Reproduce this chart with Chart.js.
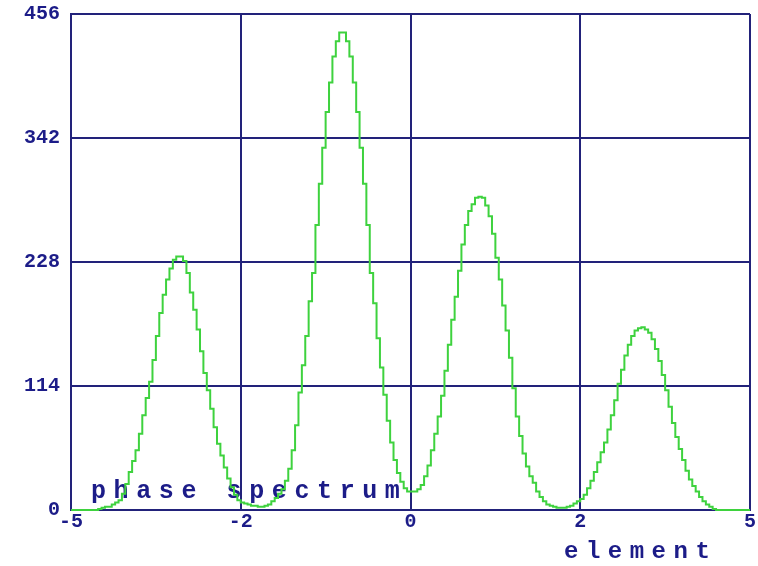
<!DOCTYPE html>
<html>
<head>
<meta charset="utf-8">
<style>
html, body { margin: 0; padding: 0; background: #fff; }
canvas { display: block; }
</style>
</head>
<body>
<canvas id="phaseChart" width="758" height="566"></canvas>
<script src="https://cdn.jsdelivr.net/npm/chart.js"></script>
<script>
// histogram bins: start at -5, each 0.05 wide
const binStart = -5;
const binWidth = 0.05;
const counts = [
  0, 0, 0, 0, 0, 0, 0, 0, 1, 2,
  3, 3, 5, 7, 9, 15, 24, 35, 45, 55,
  70, 87, 103, 118, 138, 160, 181, 198, 212, 222,
  230, 233, 233, 229, 218, 200, 184, 166, 146, 126,
  110, 93, 76, 61, 50, 39, 29, 21, 14, 9,
  7, 6, 5, 4, 4, 3, 3, 4, 5, 8,
  11, 15, 19, 27, 38, 55, 78, 108, 133, 160,
  192, 218, 262, 300, 333, 366, 393, 417, 431, 439,
  439, 431, 417, 393, 366, 333, 300, 262, 218, 190,
  158, 131, 106, 82, 62, 46, 34, 26, 20, 17,
  17, 17, 19, 23, 31, 41, 55, 70, 86, 105,
  128, 152, 175, 196, 220, 244, 262, 275, 281, 287,
  288, 287, 280, 270, 254, 232, 212, 188, 165, 140,
  112, 86, 68, 52, 40, 31, 25, 17, 12, 8,
  5, 4, 3, 2, 2, 2, 3, 4, 6, 8,
  10, 14, 20, 27, 35, 44, 53, 62, 74, 87,
  101, 116, 129, 142, 152, 160, 165, 167, 168, 166,
  163, 157, 148, 137, 124, 110, 95, 80, 67, 56,
  46, 36, 28, 22, 17, 12, 8, 5, 3, 1,
  0, 0, 0, 0, 0, 0, 0, 0, 0, 0
];
const yTicks = [0, 114, 228, 342, 456];
const xTicks = [-5, -2.5, 0, 2.5, 5];
const xTickLabels = ['-5', '-2', '0', '2', '5'];
const plotLabel = 'phase spectrum';
const xTitle = 'element';

const navy = '#1c1c88';
const gridColor = '#22227a';
const lineColor = '#3ed23e';
const tickFont = {family: '"Liberation Mono", monospace', weight: 'bold', size: 20};

// step line: each point holds its value until the next bin edge
let points = counts.map((c, i) => ({x: binStart + i * binWidth, y: c}));
points.push({x: binStart + counts.length * binWidth, y: counts[counts.length - 1]});

const textPlugin = {
    id: 'extraText',
    beforeDatasetsDraw(chart) {
        let c = chart.ctx, a = chart.chartArea;
        c.save();
        c.fillStyle = navy;
        c.font = 'bold 25px "Liberation Mono", monospace';
        c.letterSpacing = '7.6px';
        c.textBaseline = 'alphabetic';
        c.fillText(plotLabel, a.left + 20, a.bottom - 12);
        c.restore();
    },
    afterDraw(chart) {
        let c = chart.ctx;
        c.save();
        c.fillStyle = navy;
        c.font = 'bold 24px "Liberation Mono", monospace';
        c.letterSpacing = '7.5px';
        c.textBaseline = 'alphabetic';
        c.fillText(xTitle, 564, 558);
        c.restore();
    }
};

let ctx = document.getElementById('phaseChart').getContext('2d');
let chart = new Chart(ctx, {
    type: 'line',
    data: {
        datasets: [{
            label: plotLabel,
            data: points,
            borderColor: lineColor,
            borderWidth: 2,
            pointRadius: 0,
            stepped: 'before',
            fill: false,
            clip: 4
        }]
    },
    options: {
        animation: false,
        responsive: false,
        layout: { padding: { top: 14, right: 8, left: 0, bottom: 0 } },
        plugins: {
            legend: { display: false },
            tooltip: { enabled: false }
        },
        scales: {
            x: {
                type: 'linear',
                min: -5,
                max: 5,
                afterBuildTicks: s => { s.ticks = xTicks.map(v => ({value: v})); },
                afterFit: s => { s.height = 56; s.paddingLeft = 0; s.paddingRight = 0; },
                grid: { color: gridColor, lineWidth: 2, drawTicks: false },
                border: { color: gridColor, width: 2 },
                ticks: {
                    color: navy,
                    font: tickFont,
                    padding: 0,
                    maxRotation: 0,
                    autoSkip: false,
                    callback: (v, i) => xTickLabels[i]
                }
            },
            y: {
                min: 0,
                max: 456,
                afterBuildTicks: s => { s.ticks = yTicks.map(v => ({value: v})); },
                afterFit: s => { s.width = 71; s.paddingTop = 0; s.paddingBottom = 0; },
                grid: { color: gridColor, lineWidth: 2, drawTicks: false },
                border: { color: gridColor, width: 2 },
                ticks: {
                    color: navy,
                    font: tickFont,
                    padding: 11,
                    callback: v => String(v)
                }
            }
        }
    },
    plugins: [textPlugin]
});
</script>
</body>
</html>
